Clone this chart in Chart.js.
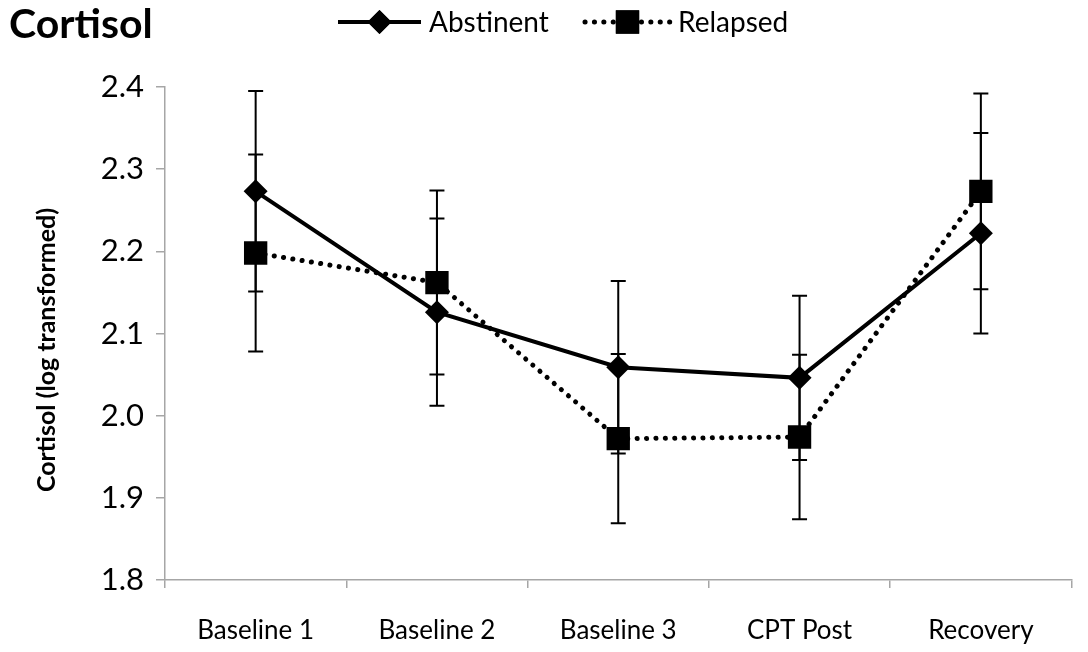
<!DOCTYPE html>
<html>
<head>
<meta charset="utf-8">
<script src="https://cdn.jsdelivr.net/npm/chart.js@4"></script>
<style>
  html, body { margin: 0; padding: 0; background: #fff; }
  #wrap { width: 1088px; height: 652px; position: relative; }
</style>
</head>
<body>
<div id="wrap"><canvas id="c" width="1088" height="652"></canvas></div>
<script>
const categories = ['Baseline 1', 'Baseline 2', 'Baseline 3', 'CPT Post', 'Recovery'];
const abstinent = [2.273, 2.126, 2.059, 2.046, 2.222];
const abstinentErr = [0.122, 0.114, 0.105, 0.100, 0.122];
const relapsed = [2.198, 2.162, 1.972, 1.974, 2.273];
const relapsedErr = [0.120, 0.112, 0.103, 0.100, 0.119];
const yTicks = [1.8, 1.9, 2.0, 2.1, 2.2, 2.3, 2.4];
const titleText = 'Cortisol';
const yTitle = 'Cortisol (log transformed)';

const FONT = 'Lato, "Open Sans", sans-serif';

const errorBars = {
  id: 'errorBars',
  beforeDatasetsDraw(chart) {
    const ctx = chart.ctx;
    const y = chart.scales.y;
    ctx.save();
    ctx.strokeStyle = '#000';
    ctx.lineWidth = 2;
    chart.data.datasets.forEach((ds, i) => {
      const meta = chart.getDatasetMeta(i);
      meta.data.forEach((pt, j) => {
        const v = ds.data[j], e = ds.errors[j];
        const yt = y.getPixelForValue(v + e), yb = y.getPixelForValue(v - e);
        const x = pt.x;
        ctx.beginPath();
        ctx.moveTo(x, yt); ctx.lineTo(x, yb);
        ctx.moveTo(x - 7.5, yt); ctx.lineTo(x + 7.5, yt);
        ctx.moveTo(x - 7.5, yb); ctx.lineTo(x + 7.5, yb);
        ctx.stroke();
      });
    });
    ctx.restore();
  }
};

const headerLegend = {
  id: 'headerLegend',
  afterDraw(chart) {
    const ctx = chart.ctx;
    ctx.save();
    ctx.fillStyle = '#000';
    ctx.textBaseline = 'middle';
    ctx.font = 'bold 41px ' + FONT;
    ctx.textAlign = 'left';
    ctx.fillText(titleText, 9, 25);

    // rotated y-axis title
    ctx.save();
    ctx.translate(47, 350);
    ctx.rotate(-Math.PI / 2);
    ctx.textAlign = 'center';
    ctx.font = 'bold 25px ' + FONT;
    ctx.fillText(yTitle, 0, 0);
    ctx.restore();

    const items = [
      { ds: chart.data.datasets[0], x0: 338, x1: 421, tx: 429 },
      { ds: chart.data.datasets[1], x0: 585, x1: 670, tx: 678 }
    ];
    const ly = 22;
    items.forEach(it => {
      const ds = it.ds;
      ctx.save();
      ctx.strokeStyle = '#000';
      ctx.lineWidth = ds.borderWidth;
      ctx.lineCap = ds.borderCapStyle || 'butt';
      ctx.setLineDash(ds.borderDash || []);
      ctx.beginPath();
      ctx.moveTo(it.x0, ly); ctx.lineTo(it.x1, ly);
      ctx.stroke();
      ctx.restore();
      Chart.helpers.drawPoint(ctx, {
        pointStyle: ds.pointStyle, radius: ds.pointRadius, rotation: 0, borderWidth: 0
      }, (it.x0 + it.x1) / 2, ly);
      ctx.fillStyle = '#000';
      ctx.fill();
      ctx.font = '28px ' + FONT;
      ctx.textAlign = 'left';
      ctx.fillText(ds.label, it.tx, ly + 1);
    });
    ctx.restore();
  }
};

new Chart(document.getElementById('c'), {
  type: 'line',
  data: {
    labels: categories,
    datasets: [
      {
        label: 'Abstinent', data: abstinent, errors: abstinentErr,
        borderColor: '#000', backgroundColor: '#000', borderWidth: 4,
        pointStyle: 'rectRot', pointRadius: 12, pointBackgroundColor: '#000', pointBorderWidth: 0,
        tension: 0
      },
      {
        label: 'Relapsed', data: relapsed, errors: relapsedErr,
        borderColor: '#000', backgroundColor: '#000', borderWidth: 5,
        borderDash: [0.1, 9.3], borderCapStyle: 'round',
        pointStyle: 'rect', pointRadius: 16.5, pointBackgroundColor: '#000', pointBorderWidth: 0,
        tension: 0
      }
    ]
  },
  options: {
    responsive: false,
    animation: false,
    devicePixelRatio: 1,
    layout: { padding: { top: 87, right: 0, left: 0, bottom: 0 } },
    plugins: { legend: { display: false }, title: { display: false }, tooltip: { enabled: false } },
    scales: {
      x: {
        type: 'category',
        offset: true,
        grid: { offset: true, drawOnChartArea: false, drawTicks: true, tickLength: 8, color: '#a6a6a6', lineWidth: 1.5 },
        border: { color: '#a6a6a6', width: 1.5 },
        ticks: { color: '#000', font: { family: FONT, size: 26 }, padding: 27, maxRotation: 0 },
        afterFit(s) { s.height = 72; }
      },
      y: {
        min: 1.8, max: 2.4,
        afterBuildTicks(s) { s.ticks = yTicks.map(v => ({ value: v })); },
        grid: { drawOnChartArea: false, drawTicks: true, tickLength: 9, color: '#a6a6a6', lineWidth: 1.5 },
        border: { color: '#a6a6a6', width: 1.5 },
        ticks: { color: '#000', font: { family: FONT, size: 31 }, padding: 12, callback: v => Number(v).toFixed(1) },
        title: { display: false },
        afterFit(s) { s.width = 165; }
      }
    }
  },
  plugins: [errorBars, headerLegend]
});
</script>
</body>
</html>
